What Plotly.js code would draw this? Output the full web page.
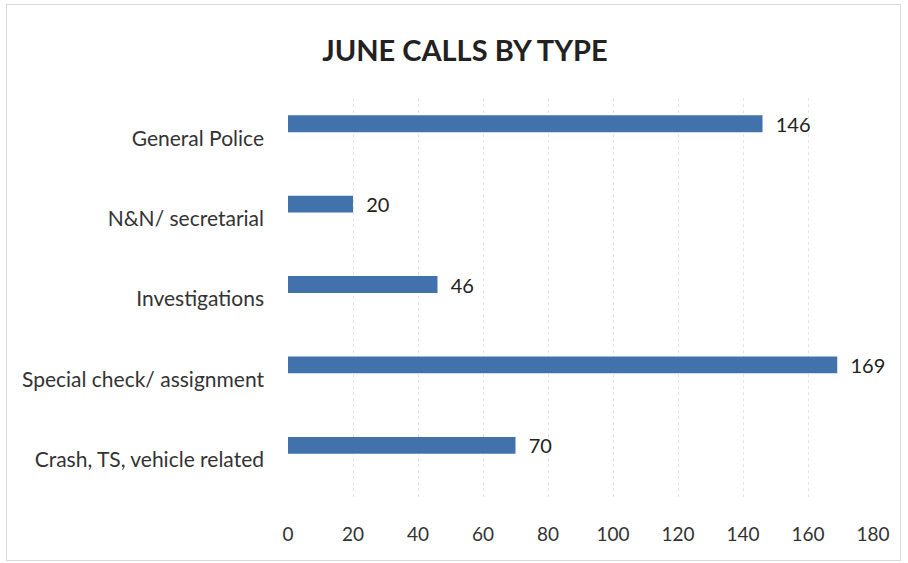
<!DOCTYPE html>
<html><head><meta charset="utf-8">
<script src="https://cdn.plot.ly/plotly-3.0.1.min.js"></script>
<style>html,body{margin:0;padding:0;background:#fff}#frame{position:absolute;left:6px;top:4px;width:893px;height:555px;border:1px solid #d9d9d9;pointer-events:none}</style>
</head><body>
<div id="chart" style="width:908px;height:563px"></div>
<div id="frame"></div>
<script>
const categories = ["Crash, TS, vehicle related", "Special check/ assignment", "Investigations", "N&N/ secretarial", "General Police"];
const values = [70, 169, 46, 20, 146];
const xTicks = [0, 20, 40, 60, 80, 100, 120, 140, 160, 180];

const trace = {
  type: 'bar', orientation: 'h',
  y: categories, x: values,
  width: 0.21, offset: 0.075,
  marker: {color: '#4172ab', line: {width: 0}},
  text: values.map(v => '\u00a0\u00a0' + v), textposition: 'outside', cliponaxis: false,
  constraintext: 'none',
  textfont: {family: 'Lato, sans-serif', size: 20, color: '#222'},
  hoverinfo: 'none'
};
const layout = {
  width: 908, height: 563,
  margin: {l: 288, r: 35, t: 98, b: 63},
  paper_bgcolor: '#fff', plot_bgcolor: '#fff',
  title: {text: '<b>JUNE CALLS BY TYPE</b>', x: 0.512, xanchor: 'center', y: 0.91, yanchor: 'middle',
          font: {family: 'Lato, sans-serif', size: 29, color: '#222'}},
  xaxis: {range: [0, 180], tickvals: xTicks, ticktext: xTicks.map(String),
          showgrid: true, gridcolor: '#e6e6e6', griddash: 'dot', zeroline: false, showline: false,
          ticklabelstandoff: 21, tickfont: {family: 'Lato, sans-serif', size: 19, color: '#333'}},
  yaxis: {type: 'category', categoryorder: 'array', categoryarray: categories, range: [-0.5, 4.5],
          showgrid: false, zeroline: false, showline: false, ticks: '',
          ticklabelstandoff: 23, tickfont: {family: 'Lato, sans-serif', size: 21, color: '#333'}},
  showlegend: false
};
Plotly.newPlot('chart', [trace], layout, {staticPlot: true, displayModeBar: false});
</script>
</body></html>
